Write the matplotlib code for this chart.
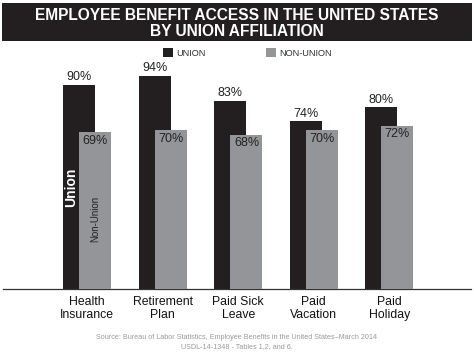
import numpy as np
import matplotlib.pyplot as plt
from matplotlib.patches import Rectangle

plt.rcParams["font.family"] = ["Liberation Sans", "DejaVu Sans"]

CATEGORIES = ["Health\nInsurance", "Retirement\nPlan", "Paid Sick\nLeave",
              "Paid\nVacation", "Paid\nHoliday"]
UNION = [90, 94, 83, 74, 80]
NON_UNION = [69, 70, 68, 70, 72]
TITLE = "EMPLOYEE BENEFIT ACCESS IN THE UNITED STATES\nBY UNION AFFILIATION"
SOURCE = ("Source: Bureau of Labor Statistics, Employee Benefits in the United States\u2013March 2014\n"
          "USDL-14-1348 - Tables 1,2, and 6.")

DARK = "#231f20"
GRAY = "#939598"
W, H = 474, 354


def px(x, y):
    """pixel coords (top-left origin) -> figure fraction"""
    return x / W, 1 - y / H


def main():
    fig = plt.figure(figsize=(W / 100, H / 100), dpi=100)

    # title banner
    fig.patches.append(Rectangle(px(2, 41), 470 / W, 38 / H, transform=fig.transFigure,
                                 facecolor=DARK, edgecolor="none"))
    fig.text(*px(237, 23.5), TITLE, ha="center", va="center", color="white",
             fontsize=11.2, fontweight="bold", linespacing=1.02)

    # legend
    for x0, col, lab in [(163, DARK, "UNION"), (266, GRAY, "NON-UNION")]:
        fig.patches.append(Rectangle(px(x0, 57), 10 / W, 9 / H, transform=fig.transFigure,
                                     facecolor=col, edgecolor="none"))
        fig.text(*px(x0 + 13, 53), lab, ha="left", va="center", color="#333333", fontsize=6.6)

    # bars
    ax = fig.add_axes([3 / W, 1 - 289 / H, 468 / W, 227 / H])
    x = np.arange(len(CATEGORIES))
    w = 0.424
    off = 0.109
    ax.bar(x - off, UNION, w, color=DARK, zorder=2)
    ax.bar(x + off, NON_UNION, w, color=GRAY, zorder=3)

    for xi, u, n in zip(x, UNION, NON_UNION):
        ax.annotate(f"{u}%", (xi - off, u), xytext=(0, 1), textcoords="offset points",
                    ha="center", va="bottom", fontsize=9, color="#222222")
        ax.annotate(f"{n}%", (xi + off, n), xytext=(0, -2), textcoords="offset points",
                    ha="center", va="top", fontsize=9, color="#222222", zorder=4)

    # in-bar labels on the first group
    ax.text(x[0] - off - 0.11, 45, "Union", rotation=90, ha="center", va="center",
            color="white", fontsize=10, fontweight="bold", zorder=4)
    ax.text(x[0] + off, 31, "Non-Union", rotation=90, ha="center", va="center",
            color="#222222", fontsize=7, zorder=4)

    ax.set_xlim(-1.116, 5.083)
    ax.set_ylim(0, 100)
    ax.set_xticks(x)
    ax.set_xticklabels(CATEGORIES, fontsize=8.8, color="#111111", linespacing=1.15)
    ax.tick_params(axis="x", length=0, pad=5)
    ax.set_yticks([])
    for s in ["top", "left", "right"]:
        ax.spines[s].set_visible(False)
    ax.spines["bottom"].set_color("#333333")
    ax.spines["bottom"].set_linewidth(0.9)

    fig.text(*px(237, 342), SOURCE, ha="center", va="center", color="#9a9a9a",
             fontsize=5.2, linespacing=1.3)

    fig.savefig("out.png", dpi=100)


if __name__ == "__main__":
    main()
